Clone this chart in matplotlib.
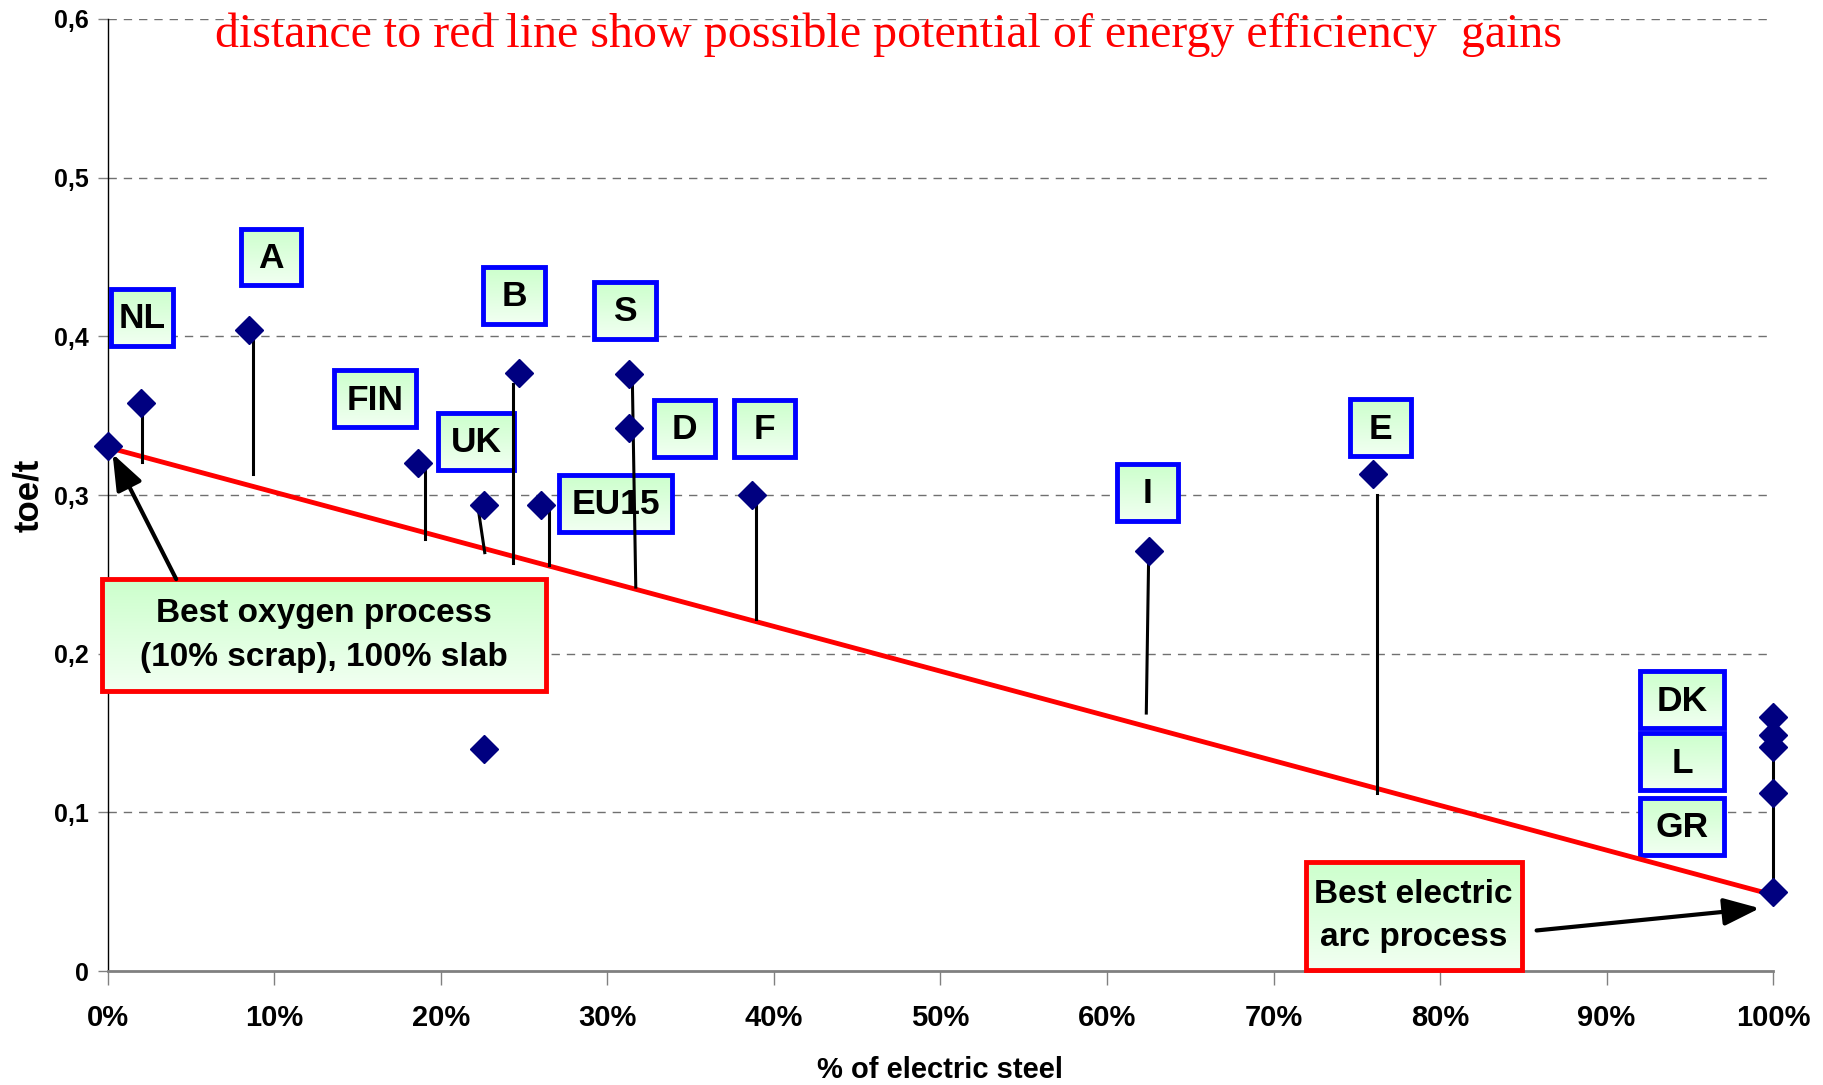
import numpy as np
import matplotlib
matplotlib.use("Agg")
import matplotlib.pyplot as plt
from matplotlib.patches import Rectangle
from matplotlib.colors import LinearSegmentedColormap

# data: share of electric steel (%) and specific consumption (toe/t)
pts_x = [0, 2.0, 8.5, 18.6, 22.6, 24.7, 26.0, 31.3, 31.3, 38.7, 22.6, 62.5, 76.0,
         100, 100, 100, 100, 100]
pts_y = [0.331, 0.358, 0.404, 0.320, 0.294, 0.377, 0.294, 0.376, 0.342, 0.300, 0.140,
         0.265, 0.313, 0.160, 0.149, 0.141, 0.112, 0.050]

# best practice line (oxygen -> electric arc)
ref_x = [0, 100]
ref_y = [0.330, 0.048]

# drop lines: x top, y top, x bottom, y bottom
drop_x0 = [2.03, 8.73, 19.06, 22.2, 24.3, 26.5, 31.5, 38.9, 62.5, 76.2, 100]
drop_y0 = [0.358, 0.404, 0.320, 0.294, 0.370, 0.2936, 0.369, 0.2936, 0.260, 0.300, 0.1487]
drop_x1 = [2.03, 8.73, 19.06, 22.63, 24.3, 26.5, 31.7, 38.9, 62.36, 76.2, 100]
drop_y1 = [0.321, 0.313, 0.2725, 0.2637, 0.257, 0.2558, 0.242, 0.222, 0.1626, 0.112, 0.0555]

# country labels and where their boxes sit
labels = ["NL", "A", "B", "S", "FIN", "UK", "D", "F", "EU15", "E", "I", "DK", "L", "GR"]
lab_x = [2.06, 9.78, 24.4, 31.04, 16.03, 22.1, 34.64, 39.42, 30.48, 76.43, 62.43, 94.55, 94.55, 94.55]
lab_y = [0.412, 0.450, 0.426, 0.4165, 0.3608, 0.334, 0.342, 0.342, 0.2949, 0.3425, 0.3018, 0.171, 0.1319, 0.0912]
lab_w = [3.70, 3.63, 3.70, 3.70, 4.96, 4.54, 3.63, 3.70, 6.78, 3.70, 3.64, 5.03, 5.03, 5.03]

xticks = np.arange(0, 101, 10)
yticks = [0, 0.1, 0.2, 0.3, 0.4, 0.5, 0.6]
ytick_labels = ["0", "0,1", "0,2", "0,3", "0,4", "0,5", "0,6"]

title = "distance to red line show possible potential of energy efficiency  gains"

green = LinearSegmentedColormap.from_list("g", ["#f2fff2", "#ccffcc"])
grad = np.linspace(0, 1, 64).reshape(-1, 1)


def gbox(ax, x0, x1, y0, y1, edge, lw, z):
    ax.imshow(grad, extent=[x0, x1, y0, y1], origin="lower", aspect="auto",
              cmap=green, zorder=z, clip_on=False, interpolation="bilinear")
    ax.add_patch(Rectangle((x0, y0), x1 - x0, y1 - y0, fill=False, edgecolor=edge,
                           lw=lw, zorder=z + 0.1, clip_on=False))


fig = plt.figure(figsize=(18.23, 10.85), dpi=100)
ax = fig.add_axes([0.0592, 0.105, 0.9134, 0.8775])

sans = ["Liberation Sans", "DejaVu Sans"]

for v in yticks[1:]:
    ax.plot([0, 100], [v, v], ls=(0, (6, 5)), color="#707070", lw=1, zorder=1)

ax.plot(ref_x, ref_y, color="#ff0000", lw=3.5, zorder=4, solid_capstyle="butt")

for i in range(len(drop_x0)):
    ax.plot([drop_x0[i], drop_x1[i]], [drop_y0[i], drop_y1[i]], color="black", lw=2.2,
            zorder=5, clip_on=False)

ax.plot(pts_x, pts_y, ls="none", marker="D", markersize=14, color="#000080",
        zorder=6, clip_on=False)

bh = 0.0359
for i, lab in enumerate(labels):
    gbox(ax, lab_x[i] - lab_w[i] / 2, lab_x[i] + lab_w[i] / 2,
         lab_y[i] - bh / 2, lab_y[i] + bh / 2, "#0000ff", 3.5, 3)
    ax.text(lab_x[i], lab_y[i] - 0.001, lab, ha="center", va="center", fontsize=25.5,
            fontweight="bold", family=sans, zorder=3.5)

# annotation boxes
gbox(ax, -0.35, 26.33, 0.1766, 0.2469, "#ff0000", 3.5, 3)
ax.text(12.99, 0.2115, "Best oxygen process\n(10% scrap), 100% slab", ha="center",
        va="center", fontsize=24, fontweight="bold", family=sans, linespacing=1.55, zorder=3.5)
gbox(ax, 71.93, 84.92, 0.0007, 0.0689, "#ff0000", 3.5, 3)
ax.text(78.4, 0.035, "Best electric\narc process", ha="center", va="center", fontsize=24,
        fontweight="bold", family=sans, linespacing=1.5, zorder=3.5)

arw = dict(arrowstyle="-|>,head_length=1.1,head_width=0.42", color="black", lw=3,
           mutation_scale=20, shrinkA=0, shrinkB=0)
ax.annotate("", xy=(0.28, 0.326), xytext=(4.1, 0.247), arrowprops=arw, zorder=7)
ax.annotate("", xy=(99.2, 0.0396), xytext=(85.8, 0.0256), arrowprops=arw, zorder=7)

ax.text(46.9, 0.590, title, ha="center", va="center", color="#ff0000", fontsize=34.5,
        family=["Liberation Serif", "DejaVu Serif"], zorder=7)

ax.set_xlim(0, 100)
ax.set_ylim(0, 0.6)
ax.set_xticks(xticks)
ax.set_xticklabels([f"{t}%" for t in xticks], fontsize=21, fontweight="bold", family=sans)
ax.set_yticks(yticks)
ax.set_yticklabels(ytick_labels, fontsize=18, fontweight="bold", family=sans)
ax.tick_params(axis="x", direction="out", length=10, color="#808080", width=1, pad=14)
ax.tick_params(axis="y", direction="out", length=7, color="#808080", width=1, pad=7)
for s in ["top", "right"]:
    ax.spines[s].set_visible(False)
ax.spines["left"].set_color("black")
ax.spines["left"].set_linewidth(1)
ax.spines["bottom"].set_color("#808080")
ax.spines["bottom"].set_linewidth(2)
ax.set_xlabel("% of electric steel", fontsize=21, fontweight="bold", family=sans, va="center")
ax.xaxis.set_label_coords(0.5, -0.1035)
ax.set_ylabel("toe/t", fontsize=25, fontweight="bold", family=sans, va="center")
ax.yaxis.set_label_coords(-0.0474, 0.5)

fig.savefig("out.png", dpi=100)
